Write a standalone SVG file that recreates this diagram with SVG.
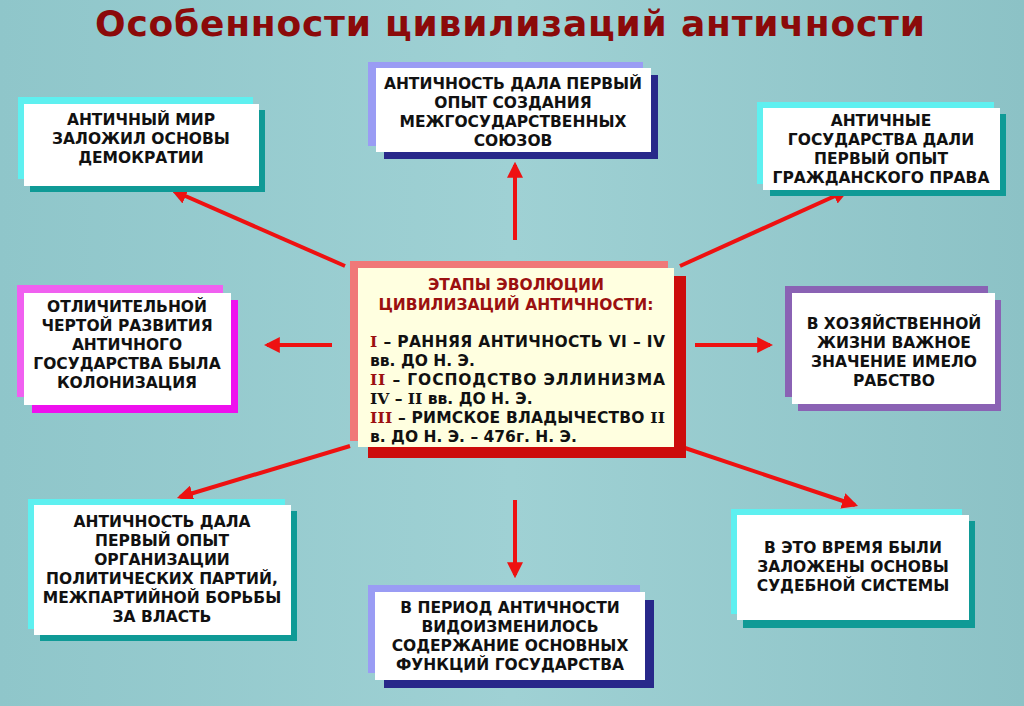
<svg xmlns="http://www.w3.org/2000/svg" width="1024" height="706" viewBox="0 0 1024 706">
<defs>
<linearGradient id="bg" x1="0" y1="0" x2="1" y2="0">
<stop offset="0" stop-color="#8fc6ca"/><stop offset="0.5" stop-color="#9fd1d4"/><stop offset="1" stop-color="#8cc2c6"/>
</linearGradient>
<marker id="ah" viewBox="0 0 10 10" refX="8" refY="5" markerWidth="4" markerHeight="4" orient="auto" markerUnits="strokeWidth">
<path d="M0,0 L10,5 L0,10 z" fill="#ee1111"/>
</marker>
<style>
.w{fill:#fff}
.t{font-family:"DejaVu Sans",Verdana,sans-serif;font-weight:bold;font-size:15.5px;fill:#111;text-anchor:middle}
.c{font-family:"DejaVu Sans",Verdana,sans-serif;font-weight:bold;font-size:15.5px;fill:#111}
.r{fill:#9b1010}
.a{stroke:#ee1111;stroke-width:4;fill:none;marker-end:url(#ah)}
</style>
</defs>
<rect width="1024" height="706" fill="url(#bg)"/>
<text x="510" y="36" font-family="'DejaVu Sans',Verdana,sans-serif" font-weight="bold" font-size="36" fill="#8b0a0a" text-anchor="middle" textLength="830" lengthAdjust="spacing">Особенности цивилизаций  античности</text>

<g id="connectors">
<line class="a" x1="345" y1="266" x2="174" y2="191"/>
<line class="a" x1="515" y1="240" x2="515" y2="165"/>
<line class="a" x1="680" y1="266" x2="846" y2="191"/>
<line class="a" x1="332" y1="345" x2="267" y2="345"/>
<line class="a" x1="695" y1="345" x2="770" y2="345"/>
<line class="a" x1="350" y1="446" x2="180" y2="497"/>
<line class="a" x1="515" y1="500" x2="515" y2="575"/>
<line class="a" x1="685" y1="448" x2="855" y2="505"/>
</g>

<g id="n1">
<rect x="18" y="97" width="235" height="82" fill="#5ef0f0"/>
<rect x="30" y="110" width="235" height="82" fill="#0f9a96"/>
<rect class="w" x="24" y="104" width="235" height="82"/>
<text class="t" x="141" y="125">АНТИЧНЫЙ МИР</text>
<text class="t" x="141" y="144">ЗАЛОЖИЛ ОСНОВЫ</text>
<text class="t" x="141" y="163">ДЕМОКРАТИИ</text>
</g>
<g id="n2">
<rect x="368" y="62" width="275" height="84" fill="#9a9cf4"/>
<rect x="384" y="75" width="274" height="84" fill="#28288a"/>
<rect class="w" x="376" y="68" width="275" height="84"/>
<text class="t" x="513" y="89">АНТИЧНОСТЬ ДАЛА ПЕРВЫЙ</text>
<text class="t" x="513" y="108">ОПЫТ СОЗДАНИЯ</text>
<text class="t" x="513" y="127">МЕЖГОСУДАРСТВЕННЫХ</text>
<text class="t" x="513" y="146">СОЮЗОВ</text>
</g>
<g id="n3">
<rect x="757" y="102" width="237" height="82" fill="#5ef0f0"/>
<rect x="770" y="114" width="236" height="82" fill="#0f9a96"/>
<rect class="w" x="763" y="108" width="237" height="82"/>
<text class="t" x="881" y="126">АНТИЧНЫЕ</text>
<text class="t" x="881" y="145">ГОСУДАРСТВА ДАЛИ</text>
<text class="t" x="881" y="164">ПЕРВЫЙ ОПЫТ</text>
<text class="t" x="881" y="183">ГРАЖДАНСКОГО ПРАВА</text>
</g>
<g id="n4">
<rect x="17" y="285" width="206" height="112" fill="#f060f0"/>
<rect x="32" y="300" width="206" height="113" fill="#ee10ee"/>
<rect class="w" x="24" y="293" width="207" height="112"/>
<text class="t" x="127" y="312">ОТЛИЧИТЕЛЬНОЙ</text>
<text class="t" x="127" y="331">ЧЕРТОЙ РАЗВИТИЯ</text>
<text class="t" x="127" y="350">АНТИЧНОГО</text>
<text class="t" x="127" y="369">ГОСУДАРСТВА БЫЛА</text>
<text class="t" x="127" y="388">КОЛОНИЗАЦИЯ</text>
</g>
<g id="n5">
<rect x="785" y="286" width="203" height="111" fill="#8a62b4"/>
<rect x="798" y="300" width="203" height="111" fill="#8a62b4"/>
<rect class="w" x="792" y="293" width="203" height="111"/>
<text class="t" x="894" y="329">В ХОЗЯЙСТВЕННОЙ</text>
<text class="t" x="894" y="348">ЖИЗНИ ВАЖНОЕ</text>
<text class="t" x="894" y="367">ЗНАЧЕНИЕ ИМЕЛО</text>
<text class="t" x="894" y="386">РАБСТВО</text>
</g>
<g id="n6">
<rect x="28" y="499" width="257" height="130" fill="#5ef0f0"/>
<rect x="40" y="511" width="257" height="130" fill="#0f9a96"/>
<rect class="w" x="34" y="505" width="257" height="130"/>
<text class="t" x="162" y="527">АНТИЧНОСТЬ ДАЛА</text>
<text class="t" x="162" y="546">ПЕРВЫЙ ОПЫТ</text>
<text class="t" x="162" y="565">ОРГАНИЗАЦИИ</text>
<text class="t" x="162" y="584">ПОЛИТИЧЕСКИХ ПАРТИЙ,</text>
<text class="t" x="162" y="603">МЕЖПАРТИЙНОЙ БОРЬБЫ</text>
<text class="t" x="162" y="622">ЗА ВЛАСТЬ</text>
</g>
<g id="n7">
<rect x="368" y="585" width="272" height="88" fill="#9a9cf4"/>
<rect x="384" y="600" width="270" height="88" fill="#28288a"/>
<rect class="w" x="375" y="592" width="270" height="88"/>
<text class="t" x="510" y="613">В ПЕРИОД АНТИЧНОСТИ</text>
<text class="t" x="510" y="632">ВИДОИЗМЕНИЛОСЬ</text>
<text class="t" x="510" y="651">СОДЕРЖАНИЕ ОСНОВНЫХ</text>
<text class="t" x="510" y="670">ФУНКЦИЙ ГОСУДАРСТВА</text>
</g>
<g id="n8">
<rect x="731" y="509" width="231" height="105" fill="#5ef0f0"/>
<rect x="743" y="521" width="232" height="107" fill="#0f9a96"/>
<rect class="w" x="737" y="515" width="232" height="105"/>
<text class="t" x="853" y="553">В ЭТО ВРЕМЯ БЫЛИ</text>
<text class="t" x="853" y="572">ЗАЛОЖЕНЫ ОСНОВЫ</text>
<text class="t" x="853" y="591">СУДЕБНОЙ СИСТЕМЫ</text>
</g>
<g id="center">
<rect x="350" y="261" width="318" height="180" fill="#f07878"/>
<rect x="368" y="276" width="318" height="182" fill="#cc0c0c"/>
<rect x="358" y="268" width="316" height="179" fill="#ffffe0"/>
<text class="t" x="516" y="290" style="fill:#9b1010">ЭТАПЫ ЭВОЛЮЦИИ</text>
<text class="t" x="516" y="310" style="fill:#9b1010">ЦИВИЛИЗАЦИЙ АНТИЧНОСТИ:</text>
<text class="c" x="370" y="347" textLength="295" lengthAdjust="spacing"><tspan class="r" font-family="'DejaVu Serif',serif">I</tspan> – РАННЯЯ АНТИЧНОСТЬ VI – IV</text>
<text class="c" x="370" y="366">вв. ДО Н. Э.</text>
<text class="c" x="370" y="385" textLength="295" lengthAdjust="spacing"><tspan class="r" font-family="'DejaVu Serif',serif">II</tspan>  –  ГОСПОДСТВО  ЭЛЛИНИЗМА</text>
<text class="c" x="370" y="404"><tspan font-family="'DejaVu Serif',serif">IV</tspan> – <tspan font-family="'DejaVu Serif',serif">II</tspan> вв. ДО Н. Э.</text>
<text class="c" x="370" y="423" textLength="295" lengthAdjust="spacing"><tspan class="r" font-family="'DejaVu Serif',serif">III</tspan> – РИМСКОЕ ВЛАДЫЧЕСТВО <tspan font-family="'DejaVu Serif',serif">II</tspan></text>
<text class="c" x="370" y="442">в. ДО Н. Э. – 476г. Н. Э.</text>
</g>
</svg>
